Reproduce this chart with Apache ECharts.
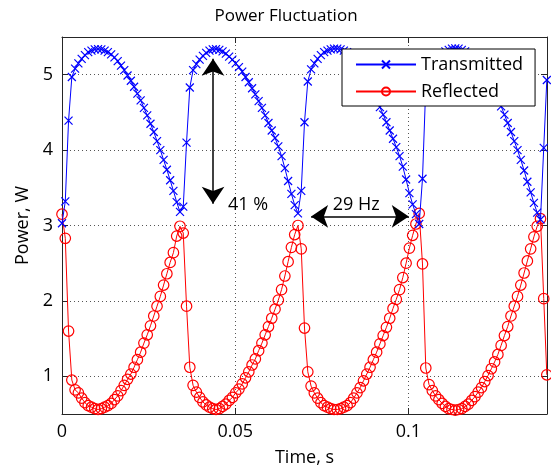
<!DOCTYPE html>
<html>
<head>
<meta charset="utf-8">
<script src="https://cdn.jsdelivr.net/npm/echarts@6/dist/echarts.min.js"></script>
<style>
  html, body { margin: 0; padding: 0; background: #fff; }
  #chart { width: 551px; height: 472px; }
</style>
</head>
<body>
<div id="chart"></div>
<script>
// Sample times of the power trace, seconds
const timeS = [
  0, 0.00095, 0.00189, 0.00284, 0.00378, 0.00473, 0.00568, 0.00662, 0.00757, 0.00851,
  0.00946, 0.01041, 0.01135, 0.0123, 0.01324, 0.01419, 0.01514, 0.01608, 0.01703, 0.01797,
  0.01892, 0.01987, 0.02081, 0.02176, 0.0227, 0.02365, 0.0246, 0.02554, 0.02649, 0.02743,
  0.02838, 0.02933, 0.03027, 0.03122, 0.03216, 0.03311, 0.03406, 0.035, 0.03595, 0.03689,
  0.03784, 0.03879, 0.03973, 0.04068, 0.04162, 0.04257, 0.04352, 0.04446, 0.04541, 0.04635,
  0.0473, 0.04825, 0.04919, 0.05014, 0.05108, 0.05203, 0.05298, 0.05392, 0.05487, 0.05581,
  0.05676, 0.05771, 0.05865, 0.0596, 0.06054, 0.06149, 0.06244, 0.06338, 0.06433, 0.06527,
  0.06622, 0.06717, 0.06811, 0.06906, 0.07, 0.07095, 0.0719, 0.07284, 0.07379, 0.07473,
  0.07568, 0.07663, 0.07757, 0.07852, 0.07946, 0.08041, 0.08136, 0.0823, 0.08325, 0.08419,
  0.08514, 0.08609, 0.08703, 0.08798, 0.08892, 0.08987, 0.09082, 0.09176, 0.09271, 0.09365,
  0.0946, 0.09555, 0.09649, 0.09744, 0.09838, 0.09933, 0.10028, 0.10122, 0.10217, 0.10311,
  0.10406, 0.10501, 0.10595, 0.1069, 0.10784, 0.10879, 0.10974, 0.11068, 0.11163, 0.11257,
  0.11352, 0.11447, 0.11541, 0.11636, 0.1173, 0.11825, 0.1192, 0.12014, 0.12109, 0.12203,
  0.12298, 0.12393, 0.12487, 0.12582, 0.12676, 0.12771, 0.12866, 0.1296, 0.13055, 0.13149,
  0.13244, 0.13339, 0.13433, 0.13528, 0.13622, 0.13717, 0.13812, 0.13906, 0.13995
];

// Transmitted power, W
const transmittedW = [
  3.03, 3.32, 4.39, 4.97, 5.08, 5.15, 5.21, 5.26, 5.30, 5.32,
  5.335, 5.34, 5.335, 5.32, 5.30, 5.27, 5.23, 5.18, 5.12, 5.06,
  4.99, 4.92, 4.84, 4.75, 4.66, 4.56, 4.46, 4.35, 4.24, 4.12,
  4.00, 3.87, 3.74, 3.60, 3.46, 3.31, 3.18, 3.25, 4.10, 4.83,
  5.06, 5.14, 5.20, 5.25, 5.29, 5.32, 5.335, 5.34, 5.33, 5.31,
  5.28, 5.24, 5.20, 5.15, 5.10, 5.04, 4.97, 4.90, 4.82, 4.74,
  4.65, 4.56, 4.46, 4.36, 4.26, 4.16, 4.05, 3.92, 3.76, 3.59,
  3.42, 3.27, 3.16, 3.46, 4.37, 4.91, 5.07, 5.15, 5.21, 5.26,
  5.30, 5.32, 5.335, 5.345, 5.345, 5.335, 5.32, 5.30, 5.26, 5.21,
  5.15, 5.08, 5.00, 4.92, 4.84, 4.75, 4.66, 4.57, 4.47, 4.37,
  4.26, 4.15, 4.04, 3.92, 3.78, 3.61, 3.43, 3.28, 3.15, 3.02,
  3.62, 4.85, 5.05, 5.12, 5.18, 5.23, 5.27, 5.31, 5.33, 5.345,
  5.35, 5.345, 5.33, 5.31, 5.28, 5.24, 5.19, 5.14, 5.08, 5.01,
  4.94, 4.86, 4.78, 4.69, 4.58, 4.47, 4.36, 4.24, 4.12, 4.00,
  3.87, 3.73, 3.58, 3.44, 3.30, 3.17, 3.08, 4.03, 4.93
];

// Reflected power, W
const reflectedW = [
  3.15, 2.83, 1.60, 0.95, 0.82, 0.78, 0.71, 0.65, 0.61, 0.59,
  0.57, 0.56, 0.57, 0.59, 0.61, 0.64, 0.69, 0.74, 0.81, 0.88,
  0.96, 1.03, 1.12, 1.22, 1.32, 1.44, 1.55, 1.67, 1.80, 1.93,
  2.06, 2.21, 2.36, 2.51, 2.64, 2.86, 2.99, 2.90, 1.93, 1.12,
  0.88, 0.79, 0.72, 0.66, 0.62, 0.59, 0.57, 0.56, 0.57, 0.60,
  0.63, 0.68, 0.72, 0.78, 0.83, 0.90, 0.98, 1.06, 1.15, 1.23,
  1.34, 1.44, 1.55, 1.66, 1.77, 1.89, 2.01, 2.15, 2.33, 2.52,
  2.71, 2.88, 3.00, 2.69, 1.64, 1.06, 0.87, 0.78, 0.71, 0.65,
  0.61, 0.59, 0.57, 0.56, 0.56, 0.57, 0.59, 0.61, 0.65, 0.71,
  0.78, 0.85, 0.94, 1.03, 1.12, 1.22, 1.32, 1.43, 1.54, 1.65,
  1.77, 1.90, 2.02, 2.15, 2.31, 2.50, 2.70, 2.87, 3.02, 3.16,
  2.49, 1.11, 0.89, 0.81, 0.74, 0.69, 0.64, 0.60, 0.57, 0.56,
  0.55, 0.56, 0.57, 0.60, 0.63, 0.68, 0.73, 0.79, 0.85, 0.93,
  1.01, 1.10, 1.19, 1.29, 1.41, 1.54, 1.66, 1.80, 1.93, 2.06,
  2.21, 2.37, 2.53, 2.69, 2.85, 2.99, 3.09, 2.03, 1.02
];

const seriesNames = ['Transmitted', 'Reflected'];
const xTickLabels = ['0', '0.05', '0.1'];
const yTickLabels = ['1', '2', '3', '4', '5'];

const FONT = '"Open Sans", "DejaVu Sans", sans-serif';
const INK = '#000';
const AXIS = '#262626';

function pairs(xs, ys) {
  return xs.map((x, i) => [x, ys[i]]);
}

function labelIn(list) {
  return function (v) {
    const s = String(+v.toFixed(4));
    return list.indexOf(s) >= 0 ? s : '';
  };
}

const tickFont = { fontFamily: FONT, fontSize: 18, color: INK };

const chart = echarts.init(document.getElementById('chart'), null, { renderer: 'canvas' });

chart.setOption({
  animation: false,
  backgroundColor: '#fff',
  title: {
    text: 'Power Fluctuation',
    left: 281,
    top: 3,
    textAlign: 'center',
    textStyle: { fontFamily: FONT, fontSize: 17, fontWeight: 'normal', color: INK }
  },
  grid: { left: 62, right: 4, top: 37, bottom: 55, containLabel: false },
  legend: {
    data: seriesNames,
    orient: 'vertical',
    left: 342,
    top: 49,
    padding: [5, 12, 4, 13],
    itemWidth: 60,
    itemHeight: 10,
    itemGap: 6,
    selectedMode: false,
    backgroundColor: '#fff',
    borderColor: INK,
    borderWidth: 1,
    borderRadius: 0,
    textStyle: { fontFamily: FONT, fontSize: 18, lineHeight: 21, color: INK }
  },
  xAxis: [
    {
      type: 'value', min: 0, max: 0.14, interval: 0.05,
      name: 'Time, s', nameLocation: 'middle', nameGap: 35,
      nameTextStyle: { fontFamily: FONT, fontSize: 18, color: INK },
      axisLine: { show: true, onZero: false, lineStyle: { color: AXIS, width: 1 } },
      axisTick: { show: true, inside: true, length: 6, lineStyle: { color: AXIS } },
      axisLabel: { ...tickFont, margin: 9, formatter: labelIn(xTickLabels) },
      splitLine: { show: true, lineStyle: { color: '#555', width: 1, type: [1, 3] } }
    },
    {
      type: 'value', position: 'top', min: 0, max: 0.14, interval: 0.05,
      axisLine: { show: true, onZero: false, lineStyle: { color: AXIS, width: 1 } },
      axisTick: { show: true, inside: true, length: 6, lineStyle: { color: AXIS } },
      axisLabel: { show: false },
      splitLine: { show: false }
    }
  ],
  yAxis: [
    {
      type: 'value', min: 0.5, max: 5.5,
      name: 'Power, W', nameLocation: 'middle', nameGap: 26,
      nameTextStyle: { fontFamily: FONT, fontSize: 18, color: INK },
      axisLine: { show: true, onZero: false, lineStyle: { color: AXIS, width: 1 } },
      axisTick: { show: true, inside: true, length: 6, lineStyle: { color: AXIS } },
      axisLabel: { ...tickFont, margin: 9, formatter: labelIn(yTickLabels) },
      splitLine: { show: true, lineStyle: { color: '#555', width: 1, type: [1, 3] } }
    },
    {
      type: 'value', position: 'right', min: 0.5, max: 5.5,
      axisLine: { show: true, onZero: false, lineStyle: { color: AXIS, width: 1 } },
      axisTick: { show: true, inside: true, length: 6, lineStyle: { color: AXIS } },
      axisLabel: { show: false },
      splitLine: { show: false }
    }
  ],
  series: [
    {
      name: 'Transmitted',
      type: 'line',
      data: pairs(timeS, transmittedW),
      showSymbol: true,
      showAllSymbol: true,
      symbol: 'path://M0,0L10,10M10,0L0,10',
      symbolSize: 8,
      color: '#0000ff',
      lineStyle: { color: '#0000ff', width: 1 },
      itemStyle: { color: 'none', borderColor: '#0000ff', borderWidth: 1.2 },
      emphasis: { disabled: true },
      silent: true,
      z: 3
    },
    {
      name: 'Reflected',
      type: 'line',
      data: pairs(timeS, reflectedW),
      showSymbol: true,
      showAllSymbol: true,
      symbol: 'circle',
      symbolSize: 10.5,
      color: '#ff0000',
      lineStyle: { color: '#ff0000', width: 1 },
      itemStyle: { color: 'rgba(0,0,0,0)', borderColor: '#ff0000', borderWidth: 1.2 },
      emphasis: { disabled: true },
      silent: true,
      z: 2
    },
    {
      // modulation depth and period annotations
      name: 'annotations',
      type: 'line',
      data: [],
      silent: true,
      z: 5,
      markLine: {
        silent: true,
        animation: false,
        symbol: ['arrow', 'arrow'],
        symbolSize: 17,
        label: { show: false },
        lineStyle: { color: INK, width: 1.5, type: 'solid' },
        emphasis: { disabled: true },
        data: [
          [{ coord: [0.0436, 5.21] }, { coord: [0.0436, 3.29] }],
          [{ coord: [0.0719, 3.12] }, { coord: [0.1001, 3.12] }]
        ]
      },
      markPoint: {
        silent: true,
        animation: false,
        symbol: 'rect',
        symbolSize: 1,
        itemStyle: { color: 'rgba(0,0,0,0)' },
        label: {
          show: true, position: 'inside', formatter: '{b}',
          fontFamily: FONT, fontSize: 18, color: INK
        },
        data: [
          { name: '41 %', coord: [0.0537, 3.27] },
          { name: '29 Hz', coord: [0.0849, 3.28] }
        ]
      }
    }
  ]
});
</script>
</body>
</html>
